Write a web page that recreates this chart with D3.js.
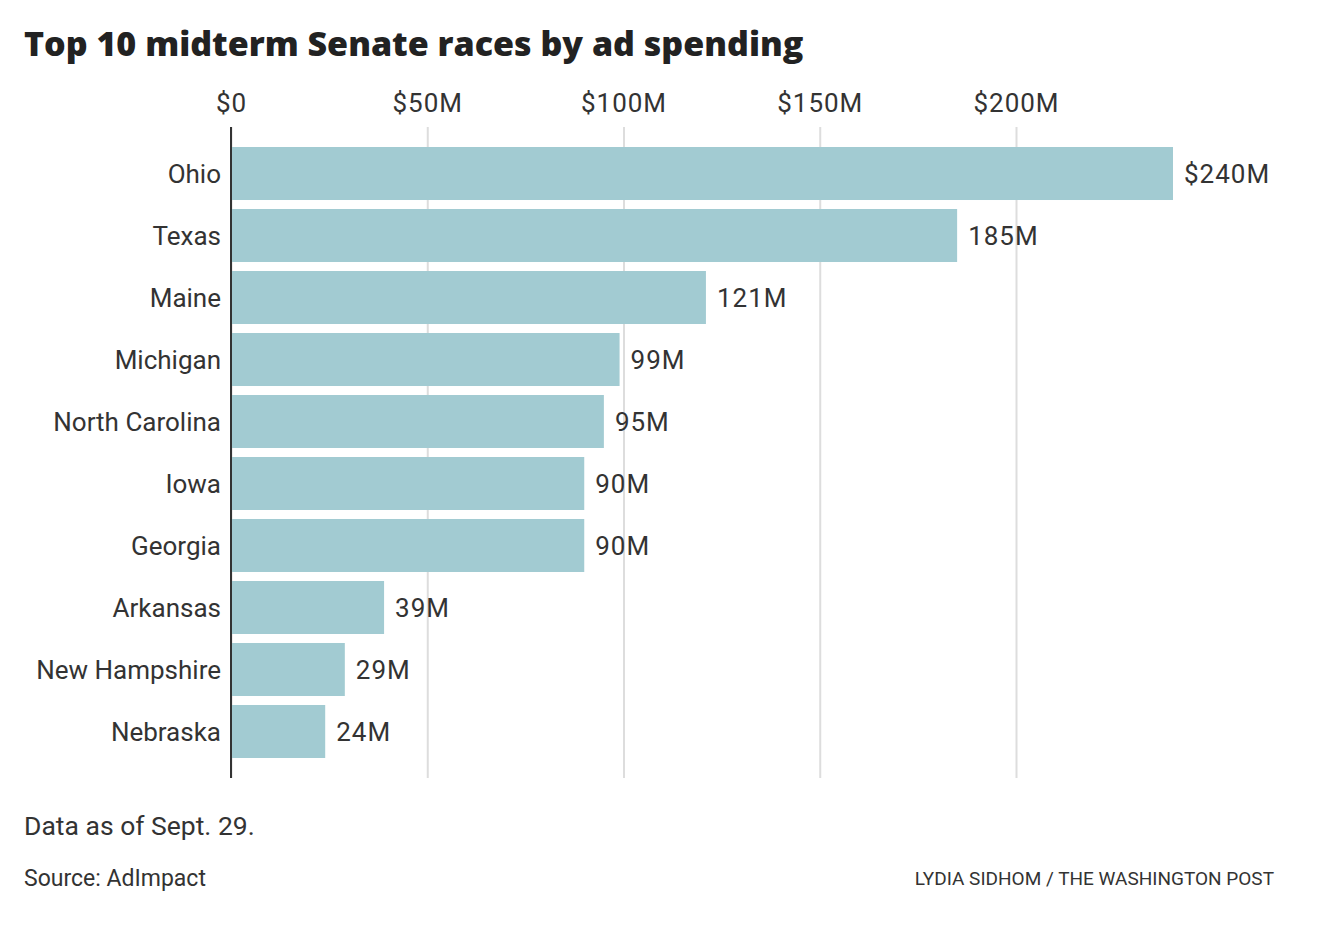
<!DOCTYPE html>
<html>
<head>
<meta charset="utf-8">
<script src="https://cdn.jsdelivr.net/npm/d3@7"></script>
<style>
  body { margin: 0; background: #fff; }
  text { font-family: Roboto, "Liberation Sans", sans-serif; fill: #333; }
</style>
</head>
<body>
<div id="container"></div>
<script>
/* CONSTANTS AND GLOBALS */
const width = 1320,
  height = 926,
  margin = { top: 147, left: 231, right: 146 };

/* DATA */
const states = ["Ohio", "Texas", "Maine", "Michigan", "North Carolina", "Iowa", "Georgia", "Arkansas", "New Hampshire", "Nebraska"]
const spending = [240, 185, 121, 99, 95, 90, 90, 39, 29, 24]
const tickValues = [0, 50, 100, 150, 200]

const data = states.map((s, i) => ({ state: s, value: spending[i] }))

/* SCALES */
const xScale = d3.scaleLinear()
  .domain([0, 240])
  .range([margin.left, 1173])

const yScale = d3.scaleBand()
  .domain(states)
  .range([margin.top, 758])
  .paddingInner(0.145)
  .paddingOuter(0)

/* HTML ELEMENTS */
const svg = d3.select("#container")
  .append("svg")
  .attr("width", width)
  .attr("height", height)

// title
svg.append("text")
  .attr("x", 24)
  .attr("y", 56)
  .style("font-family", "'Open Sans', Roboto, sans-serif")
  .style("font-size", "34px")
  .style("font-weight", "800")
  .style("fill", "#222")
  .text("Top 10 midterm Senate races by ad spending")

// gridlines + top axis
const xAxis = d3.axisTop(xScale)
  .tickValues(tickValues)
  .tickSize(-(778 - 127))
  .tickFormat(d => "$" + (d === 0 ? "0" : d + "M"))

const gx = svg.append("g")
  .attr("transform", `translate(0,127)`)
  .call(xAxis)
gx.select(".domain").remove()
gx.selectAll(".tick line")
  .attr("stroke", "#dddddd")
  .attr("stroke-width", 2)
gx.selectAll(".tick text")
  .attr("y", -15)
  .style("font-family", "Roboto, sans-serif")
  .style("font-size", "26px")
  .style("letter-spacing", "1px")
  .style("fill", "#333")

// bars
svg.selectAll("rect.bar")
  .data(data)
  .join("rect")
  .attr("class", "bar")
  .attr("x", xScale(0))
  .attr("y", d => yScale(d.state))
  .attr("width", d => xScale(d.value) - xScale(0))
  .attr("height", yScale.bandwidth())
  .attr("fill", "#a2cbd2")

// zero line
svg.append("line")
  .attr("x1", xScale(0))
  .attr("x2", xScale(0))
  .attr("y1", 127)
  .attr("y2", 778)
  .attr("stroke", "#333")
  .attr("stroke-width", 2)

// state labels
svg.selectAll("text.state")
  .data(data)
  .join("text")
  .attr("class", "state")
  .attr("x", xScale(0) - 10)
  .attr("y", d => yScale(d.state) + yScale.bandwidth() / 2)
  .attr("dy", "0.35em")
  .attr("text-anchor", "end")
  .style("font-size", "26px")
  .text(d => d.state)

// value labels
svg.selectAll("text.value")
  .data(data)
  .join("text")
  .attr("class", "value")
  .attr("x", d => xScale(d.value) + 11)
  .attr("y", d => yScale(d.state) + yScale.bandwidth() / 2)
  .attr("dy", "0.35em")
  .style("font-size", "26px")
  .style("letter-spacing", "1px")
  .text((d, i) => (i === 0 ? "$" : "") + d.value + "M")

// notes
svg.append("text")
  .attr("x", 24)
  .attr("y", 835)
  .style("font-size", "26.5px")
  .text("Data as of Sept. 29.")

svg.append("text")
  .attr("x", 24)
  .attr("y", 886)
  .style("font-size", "23px")
  .text("Source: AdImpact")

svg.append("text")
  .attr("x", 1274)
  .attr("y", 885)
  .attr("text-anchor", "end")
  .style("font-size", "19px")
  .text("LYDIA SIDHOM / THE WASHINGTON POST")
</script>
</body>
</html>
